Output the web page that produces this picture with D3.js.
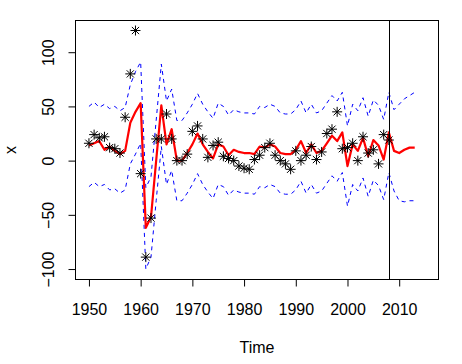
<!DOCTYPE html>
<html>
<head>
<meta charset="utf-8">
<script src="https://cdn.jsdelivr.net/npm/d3@7"></script>
<style>
  html, body { margin: 0; padding: 0; background: #fff; }
  svg { display: block; }
  text { font-family: "Liberation Sans", Arial, sans-serif; fill: #000; }
</style>
</head>
<body>
<svg id="chart" width="462" height="364"></svg>
<script>
// ---- data ----
const obsYears = d3.range(1950, 2009);
const observed = [16, 24, 21, 22, 12, 11, 7, 40, 80, 120,
  -12, -89, -53, 20, 20, 43, 20, 0, 0, 6,
  27, 32, 20, 3, 14, 17, 4, 2, 0, -5,
  -7, -8, 1, 5, 12, 16, 5, 0, -3, -8,
  9, 0, 5, 13, 1, 8, 25, 29, 45, 11,
  12, 16, 0, 22, 7, 10, -3, 24, 19];

const fitYears = d3.range(1950, 2014);
const fitted = [14, 16, 18, 10, 13, 9, 6, 9, 35, 45,
  53, -62, -52, 0, 51, 15, 29, 0, 0, 7,
  15, 25, 15, 8, 2, 15, 13, 5, 10, 8,
  7, 7, 6, 13, 12, 15, 13, 7, 6, 6,
  10, 18, 7, 15, 7, 9, 16, 23, 18, 26,
  -5, 15, 9, 21, 4, 19, 14, 1, 26, 9,
  7, 10, 12, 12];
const upper = [50, 54, 49, 52, 48, 50, 46, 49, 70, 82,
  91, -25, -15, 37, 89, 55, 66, 37, 37, 44,
  52, 62, 52, 45, 39, 53, 50, 42, 47, 45,
  44, 44, 43, 50, 49, 52, 50, 44, 43, 43,
  47, 55, 44, 52, 44, 46, 53, 60, 55, 63,
  32, 52, 46, 58, 41, 56, 51, 38, 63, 47,
  52, 57, 60, 63];
const lower = [-24, -20, -24, -22, -27, -26, -30, -27, -3, 6,
  16, -100, -89, -37, 13, -22, -9, -37, -37, -30,
  -22, -12, -22, -29, -35, -22, -24, -32, -27, -29,
  -30, -30, -31, -24, -25, -22, -24, -30, -31, -31,
  -27, -19, -30, -22, -30, -28, -21, -14, -19, -11,
  -42, -22, -28, -16, -33, -18, -23, -36, -11, -28,
  -37, -38, -37, -37];

const cutYear = 2008;
const xTicks = [1950, 1960, 1970, 1980, 1990, 2000, 2010];
const yTicks = [-100, -50, 0, 50, 100];
const xLabel = "Time";
const yLabel = "x";

// ---- layout ----
const svg = d3.select("#chart");
const L = 75.5, R = 438.5, T = 20.5, B = 279.5;

const x = d3.scaleLinear().domain([1947.4, 2017.6]).range([L, R]);
const y = d3.scaleLinear().domain([-109.65, 129.25]).range([B, T]);

// bands
const line = d3.line().x(d => x(d[0])).y(d => y(d[1]));
const bandStyle = sel => sel.attr("fill", "none").attr("stroke", "#0000ff")
  .attr("stroke-width", 1).attr("stroke-dasharray", "4,4");

svg.append("path").datum(fitYears.map((yr, i) => [yr, upper[i]]))
  .attr("d", line).call(bandStyle);
svg.append("path").datum(fitYears.map((yr, i) => [yr, lower[i]]))
  .attr("d", line).call(bandStyle);

// fitted / forecast line
svg.append("path").datum(fitYears.map((yr, i) => [yr, fitted[i]]))
  .attr("d", line).attr("fill", "none").attr("stroke", "#ff0000")
  .attr("stroke-width", 2.2).attr("stroke-linejoin", "round");

// observed points (pch 8 asterisks)
const a = 5, d8 = 3.6;
const pts = svg.append("g").attr("stroke", "#000").attr("stroke-width", 1).attr("fill", "none");
obsYears.forEach((yr, i) => {
  const cx = x(yr), cy = y(observed[i]);
  pts.append("path").attr("d",
    `M${cx - a},${cy}L${cx + a},${cy}M${cx},${cy - a}L${cx},${cy + a}` +
    `M${cx - d8},${cy - d8}L${cx + d8},${cy + d8}M${cx - d8},${cy + d8}L${cx + d8},${cy - d8}`);
});

// vertical line
svg.append("line").attr("x1", Math.round(x(cutYear)) + 0.5).attr("x2", Math.round(x(cutYear)) + 0.5)
  .attr("y1", T).attr("y2", B).attr("stroke", "#000").attr("stroke-width", 1);

// box
svg.append("rect").attr("x", L).attr("y", T).attr("width", R - L).attr("height", B - T)
  .attr("fill", "none").attr("stroke", "#000").attr("stroke-width", 1);

// x axis
const xAxis = svg.append("g").attr("transform", `translate(0,${B})`)
  .call(d3.axisBottom(x).tickValues(xTicks).tickFormat(d3.format("d")).tickSize(7).tickPadding(0).tickSizeOuter(0));
xAxis.select(".domain").remove();
xAxis.selectAll(".tick line").attr("stroke", "#000");
xAxis.selectAll(".tick text").attr("font-size", 16).attr("font-family", "Liberation Sans, Arial, sans-serif")
  .attr("y", 35.5).attr("dy", null);

// y axis
const yAxis = svg.append("g").attr("transform", `translate(${L},0)`)
  .call(d3.axisLeft(y).tickValues(yTicks).tickSize(7).tickPadding(0).tickSizeOuter(0));
yAxis.select(".domain").remove();
yAxis.selectAll(".tick line").attr("stroke", "#000");
yAxis.selectAll(".tick text").attr("font-size", 16).attr("font-family", "Liberation Sans, Arial, sans-serif")
  .attr("x", null).attr("dy", null).attr("text-anchor", "middle")
  .attr("transform", `translate(${54 - L},0) rotate(-90)`);

// axis titles
svg.append("text").attr("x", (L + R) / 2).attr("y", 353).attr("text-anchor", "middle")
  .attr("font-size", 16).text(xLabel);
svg.append("text").attr("transform", `translate(15.5,${(T + B) / 2}) rotate(-90)`)
  .attr("text-anchor", "middle").attr("font-size", 16).text(yLabel);
</script>
</body>
</html>
